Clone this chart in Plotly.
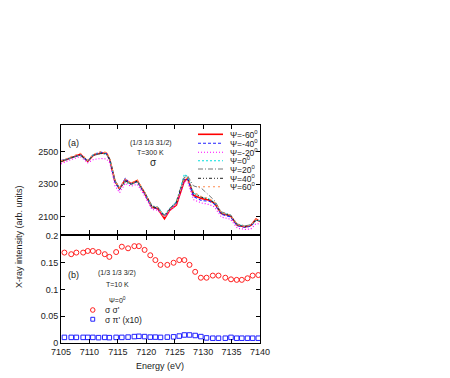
import plotly.graph_objects as go

# --- Data: panel (a), azimuthal scans at T=300 K
energy_a = [7105, 7106.5, 7108.4, 7109.7, 7110.7, 7112.0, 7113.0, 7113.6, 7114.5, 7115.3,
            7116.3, 7117.3, 7118.4, 7119.6, 7121.0, 7122.0, 7123.2, 7124.1, 7125.3, 7126.7,
            7127.3, 7128.3, 7129.7, 7131.1, 7132.0, 7133.2, 7134.8, 7136.0, 7137.4, 7138.4,
            7139.3, 7140]
psi_m60 = [2438, 2459, 2484, 2440, 2478, 2492, 2490, 2449, 2318, 2272, 2328, 2303, 2322, 2252, 2158, 2150,
           2088, 2140, 2172, 2322, 2334, 2232, 2212, 2202, 2182, 2120, 2106, 2048, 2038, 2048, 2086, 2070]
psi_m40 = [2445, 2462, 2480, 2442, 2482, 2498, 2488, 2445, 2312, 2268, 2335, 2300, 2315, 2248, 2155, 2152,
           2100, 2145, 2185, 2330, 2330, 2225, 2200, 2195, 2178, 2115, 2100, 2045, 2035, 2042, 2078, 2072]
psi_m20 = [2425, 2448, 2470, 2432, 2452, 2458, 2455, 2430, 2290, 2248, 2305, 2288, 2300, 2235, 2145, 2140,
           2098, 2135, 2175, 2318, 2312, 2205, 2185, 2175, 2160, 2098, 2085, 2030, 2022, 2025, 2058, 2055]
psi_0 = [2440, 2458, 2478, 2445, 2480, 2490, 2486, 2452, 2320, 2275, 2318, 2300, 2318, 2258, 2165, 2158,
         2108, 2150, 2192, 2362, 2345, 2245, 2222, 2208, 2188, 2125, 2110, 2052, 2042, 2050, 2080, 2075]
psi_20 = [2442, 2462, 2476, 2446, 2476, 2488, 2484, 2455, 2322, 2276, 2312, 2298, 2312, 2260, 2168, 2160,
          2110, 2150, 2195, 2350, 2350, 2290, 2275, 2232, 2200, 2130, 2112, 2055, 2045, 2050, 2078, 2078]
psi_40 = [2440, 2460, 2480, 2444, 2478, 2490, 2488, 2450, 2315, 2270, 2320, 2302, 2318, 2255, 2162, 2155,
          2102, 2146, 2188, 2340, 2340, 2245, 2220, 2205, 2185, 2122, 2108, 2050, 2040, 2046, 2080, 2072]
psi_60 = [2445, 2465, 2490, 2448, 2485, 2500, 2495, 2458, 2320, 2276, 2330, 2308, 2326, 2258, 2160, 2155,
          2095, 2142, 2180, 2335, 2338, 2250, 2225, 2210, 2190, 2125, 2110, 2052, 2040, 2048, 2084, 2074]
psi_labels = ['Ψ=-60<sup>0</sup>', 'Ψ=-40<sup>0</sup>', 'Ψ=-20<sup>0</sup>', 'Ψ=0<sup>0</sup>',
              'Ψ=20<sup>0</sup>', 'Ψ=40<sup>0</sup>', 'Ψ=60<sup>0</sup>']

# --- Data: panel (b), T=10 K, Ψ=0
energy_b = [7105.6, 7106.8, 7107.7, 7108.9, 7109.7, 7110.6, 7111.6, 7112.7, 7113.5, 7114.7,
            7115.7, 7116.8, 7117.9, 7118.7, 7119.7, 7120.7, 7121.6, 7122.5, 7123.7, 7124.8,
            7125.8, 7126.7, 7127.6, 7128.6, 7129.6, 7130.6, 7131.7, 7132.7, 7133.9, 7134.9,
            7135.9, 7136.8, 7137.8, 7138.7, 7139.7]
sigma_sigma = [0.169, 0.166, 0.169, 0.169, 0.172, 0.172, 0.170, 0.166, 0.161, 0.170,
               0.180, 0.177, 0.181, 0.181, 0.174, 0.164, 0.155, 0.146, 0.146, 0.150,
               0.155, 0.155, 0.146, 0.133, 0.122, 0.122, 0.126, 0.126, 0.122, 0.119,
               0.118, 0.118, 0.121, 0.126, 0.127]
sigma_pi_x10 = [0.0105, 0.0105, 0.0105, 0.0105, 0.0105, 0.0105, 0.0100, 0.0105, 0.0100, 0.0105,
                0.0105, 0.0110, 0.0120, 0.0125, 0.0120, 0.0110, 0.0110, 0.0105, 0.0110, 0.0115,
                0.0130, 0.0150, 0.0150, 0.0140, 0.0120, 0.0095, 0.0090, 0.0090, 0.0090, 0.0105,
                0.0090, 0.0090, 0.0090, 0.0090, 0.0090]

# --- page has an 8px body margin, so the figure is a bit smaller and everything is offset
OFF = 8
W, H = 450 - OFF, 378 - OFF
# plot area in screen pixels: x 61..260, y 125..343
L, R, T, B = 61, 260, 125, 343
def px(x):
    return (x - L) / (R - L)
def py(y):
    return (B - y) / (B - T)

FONT = 'Liberation Sans, Arial, sans-serif'
styles = [('#ff0000', 'solid', 1.6), ('#2020ff', '3px,2px', 1.1), ('#ff00ff', '1px,2px', 1.1),
          ('#00e0e0', '2px,2px', 1.1), ('#777777', '5px,2px,1px,2px', 1.0),
          ('#222222', '3px,2px,1px,2px,1px,2px', 1.0), ('#ff8c50', '2px,3px', 1.1)]
series_a = [psi_m60, psi_m40, psi_m20, psi_0, psi_20, psi_40, psi_60]

fig = go.Figure()
for vals, (col, dash, w) in zip(series_a, styles):
    fig.add_trace(go.Scatter(x=energy_a, y=vals, mode='lines', xaxis='x', yaxis='y',
                             line=dict(color=col, dash=dash, width=w), showlegend=False))

fig.add_trace(go.Scatter(x=energy_b, y=sigma_sigma, mode='markers', xaxis='x2', yaxis='y2',
                         marker=dict(symbol='circle-open', color='#ff2020', size=5, line=dict(width=1)),
                         showlegend=False))
fig.add_trace(go.Scatter(x=energy_b, y=sigma_pi_x10, mode='markers', xaxis='x2', yaxis='y2',
                         marker=dict(symbol='square-open', color='#2020ff', size=4.5, line=dict(width=1)),
                         showlegend=False))

axis_common = dict(showline=True, linecolor='black', linewidth=1, mirror='allticks',
                   ticks='inside', ticklen=4, tickcolor='black', showgrid=False, zeroline=False,
                   tickfont=dict(family=FONT, size=9, color='#222'))
fig.update_layout(
    width=W, height=H,
    margin=dict(l=L - OFF, r=450 - R, t=T - OFF, b=378 - B),
    plot_bgcolor='white', paper_bgcolor='white',
    font=dict(family=FONT, size=9, color='#222'),
    xaxis=dict(axis_common, range=[7105, 7140], dtick=5, showticklabels=False, anchor='y'),
    yaxis=dict(axis_common, range=[1994, 2664], tickvals=[2100, 2300, 2500],
               domain=[py(234), 1], anchor='x'),
    xaxis2=dict(axis_common, range=[7105, 7140], dtick=5, anchor='y2'),
    yaxis2=dict(axis_common, range=[0, 0.2], tickvals=[0, 0.05, 0.1, 0.15, 0.2],
                ticktext=['0', '0.05', '0.1', '0.15', '0.2'], domain=[0, py(236)], anchor='x2'),
    showlegend=False,
)

ann = []
def text(x, y, s, size=8, xanchor='center', **kw):
    ann.append(dict(x=px(x), y=py(y), xref='paper', yref='paper', text=s, showarrow=False,
                    xanchor=xanchor, yanchor='middle', font=dict(family=FONT, size=size, color='#222'), **kw))

text(73, 143, '(a)', size=9)
text(151, 143, '(1/3 1/3 31/2)', size=7)
text(150, 152, 'T=300 K', size=7)
text(153, 162, 'σ', size=10)
text(73, 275, '(b)', size=9)
text(117, 273, '(1/3 1/3 3/2)', size=7)
text(117, 284, 'T=10 K', size=7)
text(117, 300, 'Ψ=0<sup>0</sup>', size=7)
text(103, 310, "σ σ'", size=8.5, xanchor='left')
text(103, 320, "σ π' (x10)", size=8.5, xanchor='left')
text(19, 237, 'X-ray intensity (arb. units)', size=9, textangle=-90)
text(160, 366, 'Energy (eV)', size=9)

# legend (a) drawn by hand to match the tight row spacing
rows = [134.3, 143.3, 152.3, 160.7, 169, 178.3, 186.7]
shapes = []
for yy, lab, (col, dash, w) in zip(rows, psi_labels, styles):
    shapes.append(dict(type='line', xref='paper', yref='paper', x0=px(198), x1=px(223),
                       y0=py(yy), y1=py(yy), line=dict(color=col, dash=dash, width=w)))
    text(228, yy, lab, size=8.5, xanchor='left')

# legend (b) symbols
shapes.append(dict(type='circle', xref='paper', yref='paper', x0=px(90.5), x1=px(95),
                   y0=py(312.3), y1=py(307.7), line=dict(color='#ff2020', width=1)))
shapes.append(dict(type='rect', xref='paper', yref='paper', x0=px(90.8), x1=px(94.7),
                   y0=py(321.2), y1=py(317.3), line=dict(color='#2020ff', width=1)))

fig.update_layout(annotations=ann, shapes=shapes)
fig.write_html("out.html")
